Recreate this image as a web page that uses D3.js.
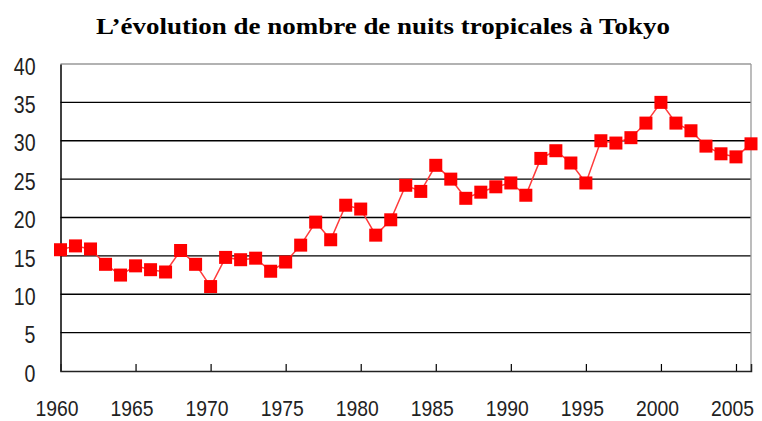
<!DOCTYPE html>
<html><head><meta charset="utf-8">
<script src="https://cdn.jsdelivr.net/npm/d3@7"></script>
<style>body{margin:0;background:#fff}svg{display:block}</style>
</head><body>
<svg id="c" width="762" height="421"></svg>
<script>
const title = "L’évolution de nombre de nuits tropicales à Tokyo";
const years = d3.range(1960, 2007);
const nights = [15.8,16.3,15.9,13.9,12.5,13.7,13.2,12.9,15.7,13.9,
                11.0,14.8,14.5,14.7,13.0,14.2,16.4,19.4,17.1,21.6,
                21.1,17.7,19.7,24.2,23.4,26.8,25.0,22.5,23.3,24.0,
                24.5,22.9,27.7,28.7,27.1,24.5,30.0,29.7,30.4,32.3,
                35.0,32.3,31.3,29.3,28.3,27.9,29.6];
const yTicks = [0,5,10,15,20,25,30,35,40];
const xTicks = [1960,1965,1970,1975,1980,1985,1990,1995,2000,2005];

const svg = d3.select("#c");
const L = 60.5, R = 751, T = 64, B = 371;
const x = d3.scaleLinear().domain([1960, 2006]).range([L, R]);
const y = d3.scaleLinear().domain([0, 40]).range([B, T]);

svg.append("text").attr("x", 96).attr("y", 33.5)
  .attr("font-family","Liberation Serif, Times New Roman, serif").attr("font-weight","bold")
  .attr("font-size", 23).attr("fill","#000")
  .attr("textLength", 574).attr("lengthAdjust","spacingAndGlyphs").text(title);

// gridlines
svg.append("g").selectAll("line").data(yTicks.filter(d => d > 0)).join("line")
  .attr("x1", L).attr("x2", R).attr("y1", d => y(d)).attr("y2", d => y(d))
  .attr("stroke", d => d === 40 ? "#999" : "#000").attr("stroke-width", 1.3);
// right border
svg.append("line").attr("x1", R).attr("x2", R).attr("y1", T).attr("y2", B)
  .attr("stroke", "#999").attr("stroke-width", 1.3);

const fontFam = "Liberation Sans, Arial, sans-serif";
// y axis
const yAxis = d3.axisLeft(y).tickValues(yTicks).tickSize(0);
const gy = svg.append("g").attr("transform", `translate(${L},0)`).call(yAxis);
gy.select(".domain").attr("stroke","#000").attr("stroke-width",1.5);
gy.selectAll(".tick text").attr("font-family", fontFam)
  .attr("font-size", 23).attr("fill","#222").attr("x", 0).attr("dy","0.44em")
  .attr("transform", "translate(-25,0) scale(0.85,1)");

// x axis
const xAxis = d3.axisBottom(x).tickValues(xTicks).tickSize(-7).tickFormat(d3.format("d")).tickPadding(0);
const gx = svg.append("g").attr("transform", `translate(0,${B})`).call(xAxis);
gx.select(".domain").attr("stroke","#222").attr("stroke-width",1.5);
gx.selectAll(".tick line").attr("stroke","#000").attr("stroke-width",1.2)
  .attr("display", d => d === 1960 ? "none" : null);
gx.selectAll(".tick text").attr("font-family", fontFam)
  .attr("font-size", 22.5).attr("fill","#222").attr("y", 45).attr("dy", 0)
  .attr("transform", "translate(-4,0) scale(0.86,1)");

// line
const line = d3.line().x((d,i) => x(years[i])).y(d => y(d));
svg.append("path").datum(nights).attr("d", line).attr("fill","none")
  .attr("stroke","#ff3b3b").attr("stroke-width",1.5);
// markers
const s = 13;
svg.append("g").selectAll("rect").data(nights).join("rect")
  .attr("x", (d,i) => x(years[i]) - s/2).attr("y", d => y(d) - s/2)
  .attr("width", s).attr("height", s).attr("fill","#ff0000");
</script>
</body></html>
